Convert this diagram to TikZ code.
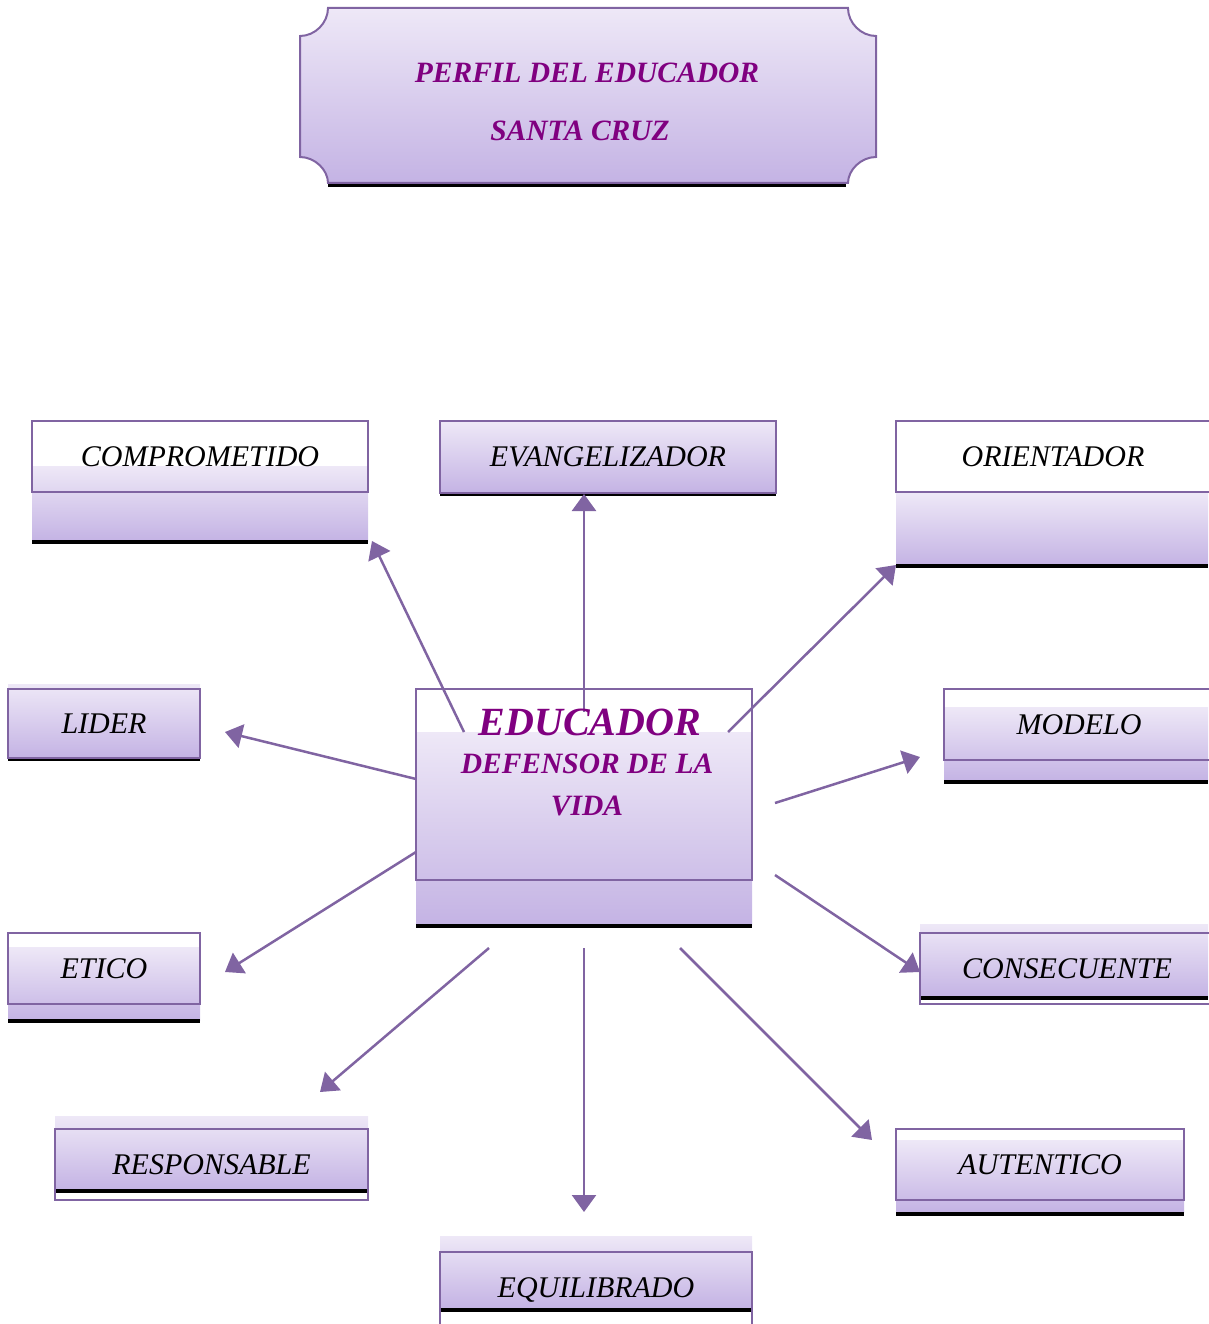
\documentclass[tikz,border=0pt]{standalone}
\usepackage{fontspec}
\setmainfont{Liberation Serif}
\usetikzlibrary{arrows.meta, positioning}

\definecolor{lavtop}{HTML}{EEE8F7}
\definecolor{lavbot}{HTML}{C4B3E4}
\definecolor{borde}{HTML}{8064A2}
\definecolor{morado}{HTML}{800080}

\begin{document}
\begin{tikzpicture}[
    x=1pt, y=-1pt,
    caja/.style={draw=borde, line width=2pt, inner sep=0pt,
        font=\fontsize{30}{34}\selectfont\itshape},
    degradado/.style={top color=lavtop, bottom color=lavbot},
    sombra/.style={line width=4pt, black},
    flecha/.style={-{Triangle[length=17pt, width=24pt]}, draw=borde, fill=borde, line width=2.5pt},
    titulo/.style={text=morado, font=\fontsize{29.5}{33}\selectfont\bfseries\itshape}
]
\useasboundingbox (0,0) rectangle (1208,1324);

% Title plate with hollow corners
\draw[sombra] (328,185) -- (846,185);
\draw[borde, line width=2pt, top color=lavtop, bottom color=lavbot]
    (328,8) -- (848,8)
    .. controls (848,23) and (861,36) .. (876,36) -- (876,157)
    .. controls (861,157) and (848,170) .. (848,183) -- (328,183)
    .. controls (328,170) and (315,157) .. (300,157) -- (300,36)
    .. controls (315,36) and (328,23) .. (328,8) -- cycle;
\node[titulo] (perfil) at (587,73) {PERFIL DEL EDUCADOR};
\node[titulo] (santa) at (580,131) {SANTA CRUZ};

% Gradient bands and black lower edges of the boxes
\foreach \xa/\ya/\xb/\yb/\yl in {
    32/466/368/541/542, 440/421/776/493/494, 896/493/1208/565/566,
    8/684/200/758/759, 944/707/1208/781/782, 416/732/752/925/926,
    8/947/200/1020/1021, 920/924/1208/997/998, 55/1116/368/1190/1191,
    896/1140/1184/1212/1214, 440/1236/752/1308/1310
} {
    \shade[degradado] (\xa,\ya) rectangle (\xb,\yb);
    \draw[sombra] (\xa,\yl) -- (\xb,\yl);
}

% Outlined boxes
\node[caja, minimum width=336pt, minimum height=71pt] (compro) at (200,456.5) {COMPROMETIDO};
\node[caja, minimum width=336pt, minimum height=72pt] (evang) at (608,457) {EVANGELIZADOR};
\node[caja, minimum width=318pt, minimum height=71pt] (orient) at (1055,456.5) {\hspace*{-4pt}ORIENTADOR};
\node[caja, minimum width=192pt, minimum height=69pt] (lider) at (104,723.5) {LIDER};
\node[caja, minimum width=270pt, minimum height=71pt] (modelo) at (1079,724.5) {MODELO};
\node[caja, minimum width=336pt, minimum height=191pt] (educ) at (584,784.5) {};
\node[caja, minimum width=192pt, minimum height=71pt] (etico) at (104,968.5) {ETICO};
\node[caja, minimum width=294pt, minimum height=71pt] (consec) at (1067,968.5) {CONSECUENTE};
\node[caja, minimum width=313pt, minimum height=71pt] (respon) at (211.5,1164.5) {RESPONSABLE};
\node[caja, minimum width=288pt, minimum height=71pt] (auten) at (1040,1164.5) {AUTENTICO};
\node[caja, minimum width=312pt, minimum height=76pt] (equil) at (596,1290) {EQUILIBRADO};

% Arrows out of the central box
\foreach \n/\xa/\ya/\xb/\yb in {
    1/464/732/372/541, 2/584/712/584/494, 3/728/732/896/565,
    4/416/779/225/732, 5/775/803/920/757, 6/416/852/225/972,
    7/775/875/920/972, 8/489/948/320/1092, 9/584/948/584/1212,
    10/680/948/872/1140
} {
    \coordinate (s\n) at (\xa,\ya);
    \coordinate (e\n) at (\xb,\yb);
    \draw[flecha] (s\n) -- (e\n);
}

% Central text
\node[titulo, font=\fontsize{40}{44}\selectfont\bfseries\itshape] (educA) at (590,722) {EDUCADOR};
\node[titulo] (educB) at (587,764) {DEFENSOR DE LA};
\node[titulo] (educC) at (587,806) {VIDA};
\end{tikzpicture}
\end{document}
